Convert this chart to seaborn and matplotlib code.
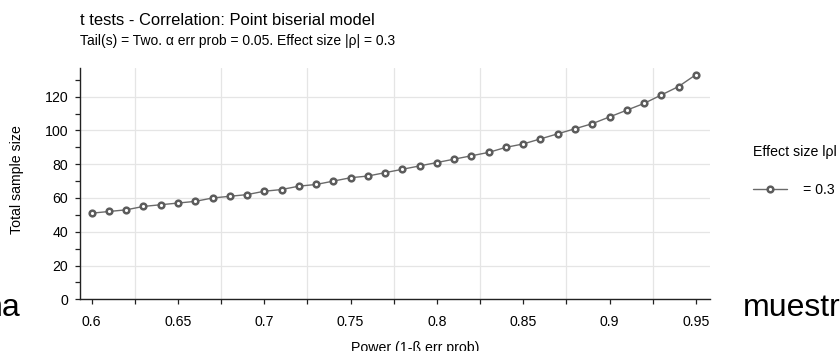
import matplotlib
matplotlib.use("Agg")
import matplotlib.pyplot as plt
import seaborn as sns
import pandas as pd
from matplotlib.ticker import MultipleLocator, FixedLocator, FixedFormatter

power = [0.60, 0.61, 0.62, 0.63, 0.64, 0.65, 0.66, 0.67, 0.68, 0.69,
         0.70, 0.71, 0.72, 0.73, 0.74, 0.75, 0.76, 0.77, 0.78, 0.79,
         0.80, 0.81, 0.82, 0.83, 0.84, 0.85, 0.86, 0.87, 0.88, 0.89,
         0.90, 0.91, 0.92, 0.93, 0.94, 0.95]
total_n = [51, 52, 53, 55, 56, 57, 58, 60, 61, 62,
           64, 65, 67, 68, 70, 72, 73, 75, 77, 79,
           81, 83, 85, 87, 90, 92, 95, 98, 101, 104,
           108, 112, 116, 121, 126, 133]
x_ticks = [0.6, 0.65, 0.7, 0.75, 0.8, 0.85, 0.9, 0.95]
x_labels = ["0.6", "0.65", "0.7", "0.75", "0.8", "0.85", "0.9", "0.95"]
y_ticks = [0, 20, 40, 60, 80, 100, 120]

df = pd.DataFrame({"power": power, "n": total_n})

sns.set_style("white")
plt.rcParams["font.family"] = ["Liberation Sans", "DejaVu Sans"]
plt.rcParams["text.color"] = "black"
plt.rcParams["xtick.color"] = "black"
plt.rcParams["ytick.color"] = "black"

fs = 10.2

fig = plt.figure(figsize=(8.4, 3.51), dpi=100)
ax = fig.add_axes([0.0952, 0.1473, 0.7500, 0.6581])

sns.lineplot(data=df, x="power", y="n", ax=ax, color="#6a6a6a", linewidth=1.0,
             marker="o", markersize=4.1, markerfacecolor="white",
             markeredgecolor="#5c5c5c", markeredgewidth=1.8, label="= 0.3")

ax.set_xlim(0.5932, 0.9582)
ax.set_ylim(0, 136.8)

ax.xaxis.set_major_locator(FixedLocator(x_ticks))
ax.xaxis.set_major_formatter(FixedFormatter(x_labels))
ax.xaxis.set_minor_locator(MultipleLocator(0.05, offset=0.025))
ax.yaxis.set_major_locator(FixedLocator(y_ticks))
ax.yaxis.set_minor_locator(MultipleLocator(10))

ax.grid(False)
ax.grid(which="minor", axis="x", color="#e5e5e5", linewidth=0.9)
ax.grid(which="major", axis="y", color="#e5e5e5", linewidth=0.9)
ax.set_axisbelow(True)

for s in ["top", "right"]:
    ax.spines[s].set_visible(False)
for s in ["left", "bottom"]:
    ax.spines[s].set_color("#222222")
    ax.spines[s].set_linewidth(1.0)

ax.tick_params(which="both", direction="out", length=3.5, width=0.9,
               color="#222222", labelsize=fs, labelcolor="black",
               left=True, bottom=True)
ax.tick_params(axis="x", which="major", pad=7.5)
ax.tick_params(axis="y", which="major", pad=5)

ax.set_xlabel("")
ax.set_ylabel("")
fig.text(415 / 840, -0.003, "Power (1-ß err prob)", fontsize=fs,
         ha="center", va="baseline")
fig.text(17.5 / 840, 1 - 180 / 351, "Total sample size", fontsize=fs,
         rotation=90, ha="center", va="center")

fig.text(0.0952, 0.941, "t tests - Correlation: Point biserial model",
         fontsize=11.9, ha="left", va="center")
fig.text(0.0952, 0.884, "Tail(s) = Two. α err prob = 0.05. Effect size |ρ| = 0.3",
         fontsize=10.0, ha="left", va="center")

leg = ax.legend(loc="center left", bbox_to_anchor=(0.896, 0.4587),
                bbox_transform=fig.transFigure, frameon=False,
                fontsize=fs, handlelength=2.45, handletextpad=1.1,
                borderpad=0, borderaxespad=0)
fig.text(0.896, 0.568, "Effect size lρl", fontsize=fs, ha="left", va="center")

# slide text fragments around the chart
fig.text(-0.018, 0.122, "na", fontsize=23, ha="left", va="center")
fig.text(0.8845, 0.122, "muestr", fontsize=23, ha="left", va="center")

fig.savefig("out.png", dpi=100)
